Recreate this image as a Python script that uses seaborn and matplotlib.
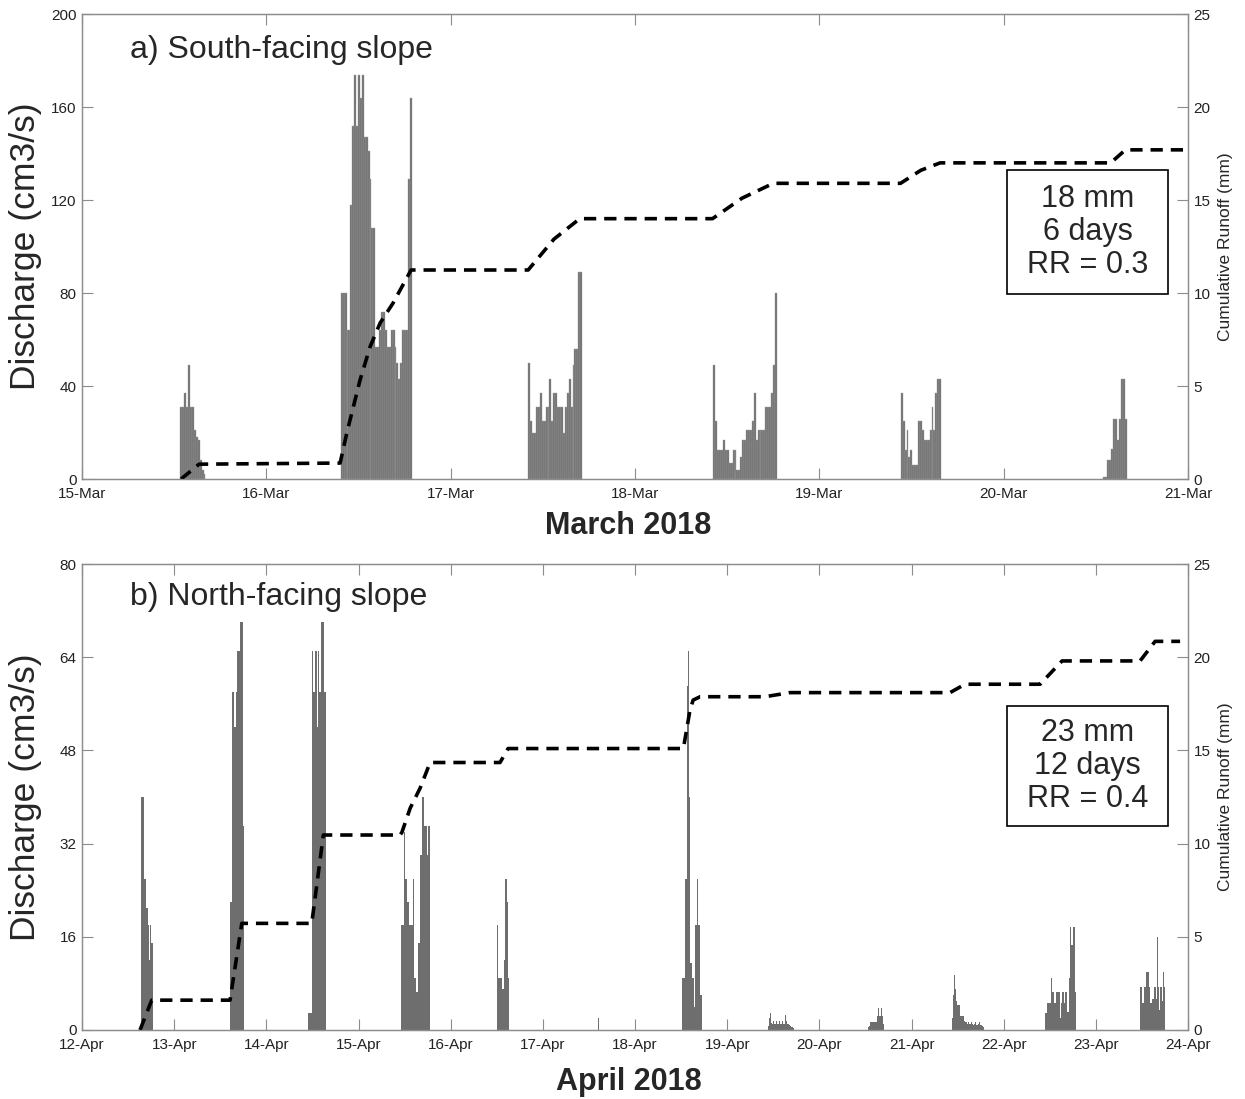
import numpy as np
import pandas as pd
import seaborn as sns
import matplotlib.pyplot as plt
from matplotlib.patches import Rectangle

sns.set_style("ticks")
plt.rcParams['font.family'] = ['Liberation Sans', 'DejaVu Sans']

dt = 1 / 96  # 15 min steps, x axis in days

# ---- a) South-facing slope, March 2018 (days after 15-Mar 00:00)
a_starts = [0.534, 1.4035, 2.421, 3.425, 4.4415, 5.541]
a_ev1 = [31, 31, 37, 31, 49, 31, 31, 21, 18, 17, 8, 4, 2]
a_ev2 = [80, 80, 80, 64, 64, 118, 152, 174, 152, 174, 164, 174, 147, 147, 141,
         129, 108, 108, 57, 57, 64, 72, 72, 64, 57, 57, 64, 64, 57, 50, 43, 50,
         64, 64, 64, 129, 164]
a_ev3 = [50, 25, 20, 20, 31, 31, 37, 25, 25, 31, 31, 43, 25, 37, 37, 31, 31, 31,
         20, 31, 37, 43, 31, 49, 56, 56, 89, 89]
a_ev4 = [49, 25, 12.5, 12.5, 12.5, 17, 12.5, 12.5, 7, 7, 12.5, 12.5, 4, 4, 9.6,
         17, 17, 21, 21, 21, 25, 37, 17, 21, 21, 21, 21, 31, 31, 31, 37, 49, 80]
a_ev5 = [37, 25, 12.5, 21, 9.6, 12.5, 6, 6, 6, 25, 25, 21, 17, 17, 17, 21, 31,
         21, 37, 43, 43]
a_ev6 = [1, 1, 8, 8, 13, 26, 26, 17, 26, 43, 43, 26]
a_events = [a_ev1, a_ev2, a_ev3, a_ev4, a_ev5, a_ev6]
a_cum_day = [0.537, 0.635, 1.40, 1.436, 1.508, 1.5625, 1.617, 1.687, 1.785, 2.42,
             2.56, 2.70, 3.42, 3.58, 3.75, 4.44, 4.55, 4.655, 5.58, 5.66, 6.0]
a_cum_mm = [0, 0.8, 0.86, 2.47, 5.32, 7.11, 8.39, 9.46, 11.24, 11.24, 12.9, 14.0,
            14.0, 15.1, 15.9, 15.9, 16.6, 17.0, 17.0, 17.7, 17.7]
a_ticks = ['15-Mar', '16-Mar', '17-Mar', '18-Mar', '19-Mar', '20-Mar', '21-Mar']

# ---- b) North-facing slope, April 2018 (days after 12-Apr 00:00)
b_starts = [0.637, 1.606, 2.455, 3.461, 4.506, 5.6, 6.506, 7.444, 8.525, 9.442,
            10.448, 11.479]
b_ev1 = [40, 40, 40, 26, 26, 21, 21, 21, 18, 12, 18, 15, 15]
b_ev2 = [22, 22, 58, 58, 52, 52, 58, 65, 65, 65, 70, 70, 70, 35]
b_ev3 = [3, 3, 3, 3, 65, 58, 58, 65, 65, 52, 65, 58, 58, 70, 70, 70, 58, 58]
b_ev4 = [18, 18, 18, 34, 26, 26, 22, 22, 18, 18, 18, 18, 26, 9, 9, 9, 6.6, 6.6,
         15, 15, 30, 30, 40, 40, 35, 35, 35, 30, 35, 35]
b_ev5 = [18, 9, 9, 9, 9, 7, 7, 12, 26, 26, 22, 9]
b_ev6 = [2]
b_ev7 = [9, 9, 9, 26, 26, 40, 59, 65, 40, 11.5, 11.5, 9, 9, 4, 18, 18, 26, 18,
         18, 6, 6]
b_ev8 = [0.6, 2, 3, 1.2, 1, 1.5, 1, 1, 1.5, 1, 1, 1.5, 1, 1, 1.5, 1, 1, 1, 2.5,
         1.5, 1, 1, 0.8, 0.6, 0.5, 0.5, 0.4]
b_ev9 = [0.5, 0.7, 1.4, 1.4, 1.4, 1.4, 1.4, 1.4, 1.4, 1.4, 2.4, 3.7, 2.4, 2.4,
         3.7, 2.4, 1.0]
b_ev10 = [2, 6, 9.5, 7, 5, 4.3, 4.3, 4.3, 2.4, 2.4, 2.4, 2.4, 1.6, 1.4, 1.4, 1.0,
          1.4, 1.0, 1.0, 1.4, 1.0, 1.0, 0.8, 1.0, 1.4, 0.8, 0.8, 1.0, 1.4, 0.8,
          0.8, 0.6, 0.5]
b_ev11 = [3, 3, 4.6, 4.6, 4.6, 4.6, 8.9, 6.6, 6.6, 4.6, 4.6, 6.6, 6.6, 4.6, 6.6,
          6.6, 2, 4.6, 6.6, 6.6, 4.6, 6.6, 6.6, 3.1, 3.1, 8.9, 17.7, 14.6, 14.6,
          17.7, 17.7, 6.6]
b_ev12 = [7.4, 7.4, 4.6, 4.6, 7.4, 7.4, 10, 10, 10, 7.4, 4.6, 4.6, 5.4, 5.4, 12.9,
          7.4, 7.4, 5.4, 16, 7.4, 3.5, 7.4, 7.4, 5, 10, 7.4]
b_events = [b_ev1, b_ev2, b_ev3, b_ev4, b_ev5, b_ev6, b_ev7, b_ev8, b_ev9,
            b_ev10, b_ev11, b_ev12]
b_cum_day = [0.629, 0.756, 1.606, 1.733, 2.492, 2.618, 3.45, 3.47, 3.56, 3.67,
             3.776, 4.535, 4.622, 6.524, 6.545, 6.596, 6.63, 6.706, 7.41, 7.68,
             9.417, 9.58, 10.394, 10.633, 11.479, 11.642, 11.913]
b_cum_mm = [0, 1.6, 1.6, 5.72, 5.72, 10.46, 10.46, 10.6, 11.9, 13.0, 14.35, 14.35,
            15.1, 15.1, 15.7, 17.17, 17.7, 17.88, 17.88, 18.1, 18.1, 18.55, 18.55,
            19.8, 19.8, 20.85, 20.85]
b_ticks = ['12-Apr', '13-Apr', '14-Apr', '15-Apr', '16-Apr', '17-Apr', '18-Apr',
           '19-Apr', '20-Apr', '21-Apr', '22-Apr', '23-Apr', '24-Apr']

tickfont = ['Liberation Sans Narrow', 'Liberation Sans']
bar_col = '#6e6e6e'
spine_col = '#8c8c8c'


def panel(ax, starts, events, cum_day, cum_mm, ticks, ymax, ystep,
          title, xlabel, boxtxt, box_y, title_y, xlab_y, edge):
    for start, vals in zip(starts, events):
        t = start + dt * np.arange(len(vals))
        ax.bar(t, vals, width=dt, align='edge', color=bar_col,
               edgecolor=edge, linewidth=0.3 if edge != 'none' else 0)
    ax.set_xlim(0, len(ticks) - 1)
    ax.set_ylim(0, ymax)
    ax.set_xticks(range(len(ticks)))
    ax.set_xticklabels(ticks, fontfamily=tickfont, fontsize=11)
    ax.set_yticks(np.arange(0, ymax + 1, ystep))
    ax.set_yticklabels([str(v) for v in np.arange(0, ymax + 1, ystep)],
                       fontfamily=tickfont, fontsize=11)
    ax.tick_params(direction='in', length=8, width=0.8, top=True, right=False,
                   color=spine_col, labelcolor='#222222', pad=4)
    ax.tick_params(axis='x', pad=6)
    for s in ax.spines.values():
        s.set_color(spine_col)
        s.set_linewidth(0.9)
    ax.set_ylabel('Discharge (cm3/s)', fontsize=25.5)
    ax.yaxis.set_label_coords(-0.036, 0.5)
    ax.set_xlabel(xlabel, fontsize=22, fontweight='bold')
    ax.xaxis.set_label_coords(0.494, xlab_y)
    ax.text(0.043, title_y, title, transform=ax.transAxes, fontsize=23,
            va='center', ha='left')

    ax2 = ax.twinx()
    df = pd.DataFrame({'day': cum_day, 'mm': cum_mm})
    sns.lineplot(data=df, x='day', y='mm', ax=ax2, color='black',
                 linewidth=2.6, estimator=None, sort=False)
    ax2.lines[-1].set_dashes([3.4, 2.2])
    ax2.set_ylim(0, 25)
    ax2.set_xlim(0, len(ticks) - 1)
    ax2.set_yticks(range(0, 26, 5))
    ax2.set_yticklabels([str(v) for v in range(0, 26, 5)],
                        fontfamily=tickfont, fontsize=11)
    ax2.tick_params(direction='in', length=8, width=0.8, color=spine_col,
                    labelcolor='#222222', pad=4)
    for s in ax2.spines.values():
        s.set_color(spine_col)
        s.set_linewidth(0.9)
    ax2.set_ylabel('Cumulative Runoff (mm)', fontsize=12.5,
                   fontfamily=tickfont)
    ax2.yaxis.set_label_coords(1.027, 0.5)

    x0, x1 = 0.8363, 0.9819
    ax2.add_patch(Rectangle((x0, box_y[0]), x1 - x0, box_y[1] - box_y[0],
                            transform=ax2.transAxes, facecolor='white',
                            edgecolor='black', linewidth=1.2, zorder=5))
    ax2.text((x0 + x1) / 2, (box_y[0] + box_y[1]) / 2, boxtxt,
             transform=ax2.transAxes, ha='center', va='center', fontsize=22,
             linespacing=1.15, zorder=6)
    return ax2


fig = plt.figure(figsize=(12.45, 10.99), dpi=100)
ax_a = fig.add_axes([0.0659, 0.5641, 0.8884, 0.4231])
ax_b = fig.add_axes([0.0659, 0.0628, 0.8884, 0.4240])

panel(ax_a, a_starts, a_events, a_cum_day, a_cum_mm, a_ticks, 200, 40,
      'a) South-facing slope', 'March 2018', '18 mm\n6 days\nRR = 0.3',
      (0.398, 0.6645), 0.9226, -0.069, '#a0a0a0')
panel(ax_b, b_starts, b_events, b_cum_day, b_cum_mm, b_ticks, 80, 16,
      'b) North-facing slope', 'April 2018', '23 mm\n12 days\nRR = 0.4',
      (0.4378, 0.6953), 0.929, -0.079, 'none')

fig.savefig('out.png', dpi=100)
